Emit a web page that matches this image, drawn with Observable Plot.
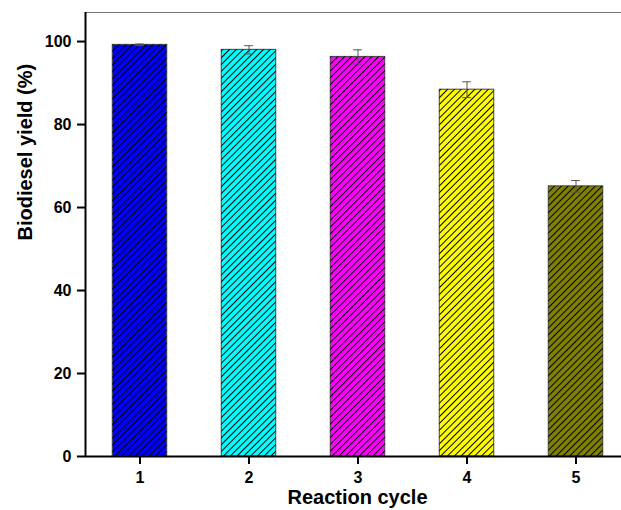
<!DOCTYPE html>
<html><head><meta charset="utf-8">
<script src="https://cdn.jsdelivr.net/npm/d3@7"></script>
<script src="https://cdn.jsdelivr.net/npm/@observablehq/plot@0.6"></script>
<style>body{margin:0;background:#fff} #chart svg{overflow:hidden;display:block}</style>
</head><body><div id="chart"></div>
<script>
const cycles = [1, 2, 3, 4, 5];
const yields = [99.2, 98.0, 96.3, 88.4, 65.1];
const errors = [0.2, 1.0, 1.7, 1.9, 1.4];
const colors = ["#0000ff", "#00ffff", "#ff00ff", "#ffff00", "#808000"];
const yTicks = [0, 20, 40, 60, 80, 100];
const xLabel = "Reaction cycle";
const yLabel = "Biodiesel yield (%)";

const data = cycles.map((c, i) => ({cycle: c, value: yields[i], err: errors[i], color: colors[i]}));

const font = "'Liberation Sans', Arial, sans-serif";
const chart = Plot.plot({
  width: 621,
  height: 510,
  marginLeft: 85,
  marginTop: 12,
  marginBottom: 54,
  marginRight: 0,
  style: {fontFamily: font, fontWeight: "bold", fontSize: "16px", background: "#fff", color: "#000"},
  x: {domain: [0.5, 5.5], range: [85, 630], axis: null},
  y: {domain: [0, 107], axis: null},
  color: {type: "identity"},
  marks: [
    Plot.rectY(data, {x1: d => d.cycle - 0.25, x2: d => d.cycle + 0.25, y1: 0, y2: "value", fill: "color", stroke: "#444", strokeWidth: 1}),
    Plot.rectY(data, {x1: d => d.cycle - 0.25, x2: d => d.cycle + 0.25, y1: 0, y2: "value", fill: "url(#hatch)"}),
    Plot.ruleX(data, {x: "cycle", y1: d => d.value - d.err, y2: d => d.value + d.err, stroke: "#555", strokeWidth: 1}),
    Plot.ruleY(data, {y: d => d.value + d.err, x1: d => d.cycle - 0.04, x2: d => d.cycle + 0.04, stroke: "#555", strokeWidth: 1}),
    Plot.ruleY(data, {y: d => d.value - d.err, x1: d => d.cycle - 0.04, x2: d => d.cycle + 0.04, stroke: "#555", strokeWidth: 1}),
    Plot.ruleY([107], {stroke: "#777", strokeWidth: 1}),
    Plot.ruleX([5.5], {stroke: "#777", strokeWidth: 1}),
    Plot.ruleX([0.5], {stroke: "#000", strokeWidth: 2}),
    Plot.ruleY([0], {stroke: "#000", strokeWidth: 2}),
    Plot.axisY(yTicks, {tickSize: 8, tickPadding: 6, strokeWidth: 2, label: null}),
    Plot.axisX(cycles, {tickSize: 8, tickPadding: 7, strokeWidth: 2, label: null, tickFormat: d => String(d)}),
    Plot.text([yLabel], {frameAnchor: "left", dx: -60, dy: 6, rotate: -90, fontSize: 20, fontWeight: "bold"}),
    Plot.text([xLabel], {frameAnchor: "bottom", dy: 47, dx: 4, fontSize: 20, fontWeight: "bold"})
  ]
});

const svg = d3.select(chart);
svg.selectAll("text").style("font-weight", "bold");
svg.selectAll('g[aria-label$="tick label"]').attr("font-size", 16).style("font-size", "16px");
const defs = svg.insert("defs", ":first-child");
const pat = defs.append("pattern")
  .attr("id", "hatch")
  .attr("patternUnits", "userSpaceOnUse")
  .attr("width", 4.8).attr("height", 4.8)
  .attr("patternTransform", "rotate(45)");
pat.append("line").attr("x1", 0.5).attr("y1", 0).attr("x2", 0.5).attr("y2", 4.8)
  .attr("stroke", "#000").attr("stroke-width", 1);

document.getElementById("chart").appendChild(chart);
</script>
</body></html>
